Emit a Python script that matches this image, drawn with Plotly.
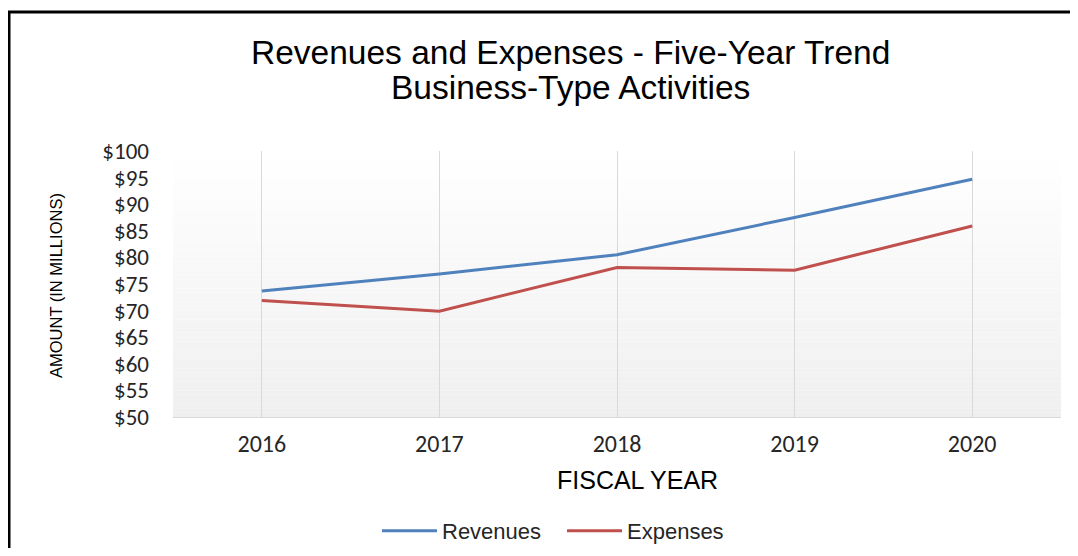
import plotly.graph_objects as go

years = ["2016", "2017", "2018", "2019", "2020"]
revenues = [73.7, 76.9, 80.5, 87.5, 94.7]
expenses = [71.9, 69.9, 78.1, 77.6, 85.9]
y_ticks = [50, 55, 60, 65, 70, 75, 80, 85, 90, 95, 100]
y_tick_labels = ["$" + str(v) for v in y_ticks]

# page has an 8px body margin; figure is sized to fit inside the window
OFF = 8
W, H = 1062, 540
L = 173 - OFF
PW = 888
R = W - L - PW
T = 151 - OFF
B = H - (417 - OFF)
PH = H - T - B

def px_x(p):
    return (p - OFF - L) / PW

def px_y(p):
    return (H - B - (p - OFF)) / PH

fig = go.Figure()
fig.add_trace(go.Scatter(x=years, y=revenues, mode="lines", name="Revenues",
                         line=dict(color="#4F81BD", width=3)))
fig.add_trace(go.Scatter(x=years, y=expenses, mode="lines", name="Expenses",
                         line=dict(color="#C0504D", width=3)))

shapes = []
n = 60
for i in range(n):
    t = (i + 0.5) / n  # 0 bottom -> 1 top
    g = int(round(239 + (255 - 239) * t))
    shapes.append(dict(type="rect", xref="x domain", yref="y domain",
                       x0=0, x1=1, y0=i / n, y1=(i + 1) / n,
                       fillcolor=f"rgb({g},{g},{g})", line=dict(width=0),
                       layer="below"))
# outer frame
shapes.append(dict(type="rect", xref="paper", yref="paper",
                   x0=px_x(9), x1=px_x(1095), y0=px_y(575), y1=px_y(12),
                   line=dict(color="black", width=3), fillcolor="rgba(0,0,0,0)",
                   layer="above"))

x_tick_font = dict(family="Calibri, Carlito, Lato, sans-serif", size=24, color="#262626")
y_tick_font = dict(family="Calibri, Carlito, Lato, sans-serif", size=23, color="#262626")

fig.update_layout(
    width=W, height=H,
    margin=dict(l=L, r=R, t=T, b=B, autoexpand=False),
    paper_bgcolor="white",
    plot_bgcolor="rgba(0,0,0,0)",
    shapes=shapes,
    showlegend=True,
    legend=dict(orientation="h", x=px_x(562), xanchor="center",
                y=px_y(531), yanchor="middle",
                font=dict(family="Liberation Sans, Arial", size=22, color="#262626"),
                bgcolor="rgba(0,0,0,0)", itemwidth=55, tracegroupgap=0,
                entrywidth=115),
    annotations=[
        dict(text="Revenues and Expenses - Five-Year Trend", xref="paper", yref="paper",
             x=px_x(570), y=px_y(53), showarrow=False, xanchor="center", yanchor="middle",
             font=dict(family="Liberation Sans, Arial", size=33.5, color="black")),
        dict(text="Business-Type Activities", xref="paper", yref="paper",
             x=px_x(570), y=px_y(88), showarrow=False, xanchor="center", yanchor="middle",
             font=dict(family="Liberation Sans, Arial", size=33.5, color="black")),
        dict(text="FISCAL YEAR", xref="paper", yref="paper",
             x=px_x(637), y=px_y(480), showarrow=False, xanchor="center", yanchor="middle",
             font=dict(family="Liberation Sans, Arial", size=25, color="black")),
        dict(text="AMOUNT (IN MILLIONS)", xref="paper", yref="paper", textangle=-90,
             x=px_x(56), y=px_y(286), showarrow=False, xanchor="center", yanchor="middle",
             font=dict(family="Liberation Sans, Arial", size=16.5, color="black")),
    ],
    xaxis=dict(type="category", range=[-0.5, 4.5], showgrid=True, gridcolor="#d9d9d9",
               gridwidth=1, showline=True, linecolor="#d9d9d9", linewidth=1,
               ticks="", tickfont=x_tick_font, ticklabelstandoff=5, zeroline=False,
               automargin=False),
    yaxis=dict(range=[50, 100], tickvals=y_ticks, ticktext=y_tick_labels,
               showgrid=False, showline=False, zeroline=False, ticks="",
               tickfont=y_tick_font, ticklabelstandoff=23, automargin=False),
)

fig.write_html("out.html")
